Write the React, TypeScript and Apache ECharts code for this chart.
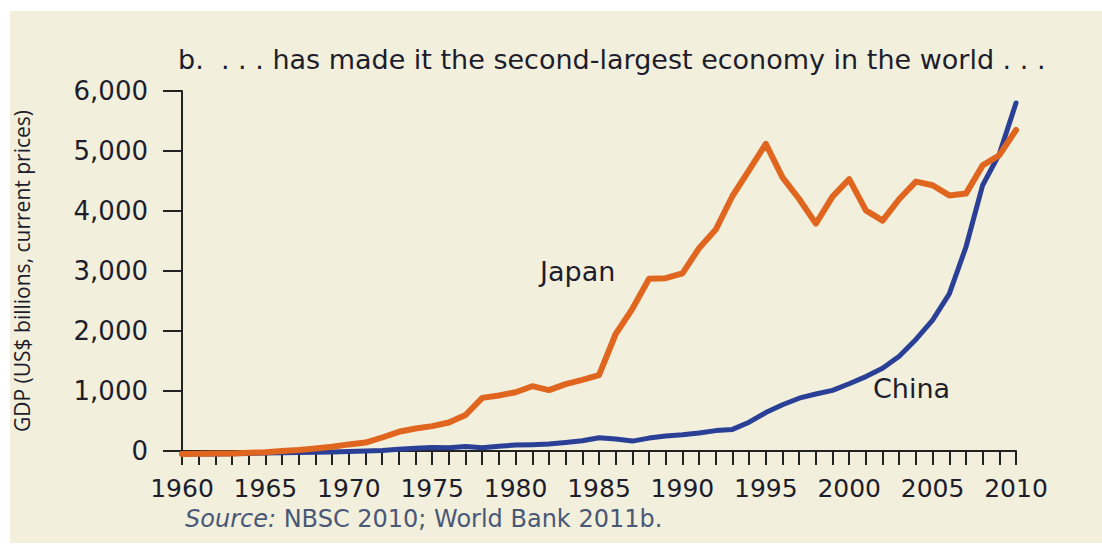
import React, { useEffect, useRef } from "react";
import * as echarts from "echarts";

const years = [
  1960, 1961, 1962, 1963, 1964, 1965, 1966, 1967, 1968, 1969,
  1970, 1971, 1972, 1973, 1974, 1975, 1976, 1977, 1978, 1979,
  1980, 1981, 1982, 1983, 1984, 1985, 1986, 1987, 1988, 1989,
  1990, 1991, 1992, 1993, 1994, 1995, 1996, 1997, 1998, 1999,
  2000, 2001, 2002, 2003, 2004, 2005, 2006, 2007, 2008, 2009, 2010,
];

const japan = [
  -50, -45, -42, -40, -30, -20, 0, 15, 40, 70,
  110, 140, 225, 320, 375, 415, 475, 600, 885, 925,
  980, 1080, 1015, 1115, 1185, 1265, 1950, 2370, 2870, 2880,
  2960, 3380, 3690, 4250, 4680, 5120, 4560, 4200, 3790, 4240,
  4530, 4010, 3840, 4200, 4490, 4430, 4260, 4290, 4760, 4930, 5350,
];

const china = [
  -50, -50, -48, -45, -40, -35, -30, -25, -20, -15,
  -10, 0, 10, 30, 45, 60, 55, 75, 55, 80,
  100, 105, 115, 140, 170, 220, 200, 165, 215, 250,
  270, 300, 340, 360, 480, 640, 770, 880, 950, 1010,
  1120, 1240, 1380, 1580, 1860, 2180, 2620, 3400, 4430, 4950, 5800,
];

const yTicks = [0, 1000, 2000, 3000, 4000, 5000, 6000];

const titleText = "b.  . . . has made it the second-largest economy in the world . . .";
const yAxisTitle = "GDP (US$ billions, current prices)";
const sourceItalic = "Source:";
const sourceRest = " NBSC 2010; World Bank 2011b.";

const FONT = "DejaVu Sans";
const TEXT = "#1d1d2b";

export default function App() {
  const ref = useRef<HTMLDivElement>(null);
  useEffect(() => {
    if (!ref.current) return;
    const chart = echarts.init(ref.current, undefined, { renderer: "svg" });
    chart.setOption({
      animation: false,
      backgroundColor: "#ffffff",
      graphic: [
        {
          type: "rect",
          z: -10,
          shape: { x: 10, y: 11, width: 1092, height: 532 },
          style: { fill: "#f2efdd" },
        },
        {
          type: "text",
          left: 178,
          top: 46,
          style: { text: titleText, font: `27px "${FONT}"`, fill: TEXT },
        },
        {
          type: "text",
          left: 185,
          top: 507,
          style: {
            text: `{i|${sourceItalic}}{n|${sourceRest}}`,
            rich: {
              i: { fontFamily: FONT, fontSize: 24, fontStyle: "italic", fill: "#4a5877", color: "#4a5877" },
              n: { fontFamily: FONT, fontSize: 24, fill: "#4a5877", color: "#4a5877" },
            },
          },
        },
        {
          type: "text",
          left: 540,
          top: 258,
          style: { text: "Japan", font: `27px "${FONT}"`, fill: TEXT },
        },
        {
          type: "text",
          left: 873,
          top: 375,
          style: { text: "China", font: `27px "${FONT}"`, fill: TEXT },
        },
      ],
      grid: { left: 182, top: 91, width: 834, height: 360, containLabel: false },
      xAxis: {
        type: "value",
        min: years[0],
        max: years[years.length - 1],
        interval: 1,
        splitLine: { show: false },
        axisLine: { show: true, lineStyle: { color: "#222", width: 2 } },
        axisTick: { show: true, length: 14, inside: false, lineStyle: { color: "#222", width: 2 } },
        axisLabel: {
          margin: 25,
          fontFamily: FONT,
          fontSize: 25,
          color: TEXT,
          formatter: (v: number) => (v % 5 === 0 ? String(v) : ""),
        },
      },
      yAxis: {
        type: "value",
        min: yTicks[0],
        max: yTicks[yTicks.length - 1],
        interval: 1000,
        splitLine: { show: false },
        axisLine: { show: true, lineStyle: { color: "#222", width: 2 } },
        axisTick: { show: true, length: 19, inside: false, lineStyle: { color: "#222", width: 2 } },
        axisLabel: {
          margin: 34,
          fontFamily: FONT,
          fontSize: 26,
          color: TEXT,
          formatter: (v: number) => v.toLocaleString("en-US"),
        },
        name: yAxisTitle,
        nameLocation: "middle",
        nameRotate: 90,
        nameGap: 150,
        nameTextStyle: { fontFamily: "Open Sans", fontSize: 21, color: TEXT },
      },
      series: [
        {
          name: "Japan",
          type: "line",
          data: years.map((y, i) => [y, japan[i]]),
          showSymbol: false,
          clip: false,
          lineStyle: { color: "#e0661f", width: 6, join: "round", cap: "round" },
          z: 3,
        },
        {
          name: "China",
          type: "line",
          data: years.map((y, i) => [y, china[i]]),
          showSymbol: false,
          clip: false,
          lineStyle: { color: "#2a3f96", width: 5, join: "round", cap: "round" },
          z: 2,
        },
      ],
    });
    return () => chart.dispose();
  }, []);
  return (
    <div
      ref={ref}
      style={{ position: "absolute", left: 0, top: 0, width: 1102, height: 545 }}
    />
  );
}
